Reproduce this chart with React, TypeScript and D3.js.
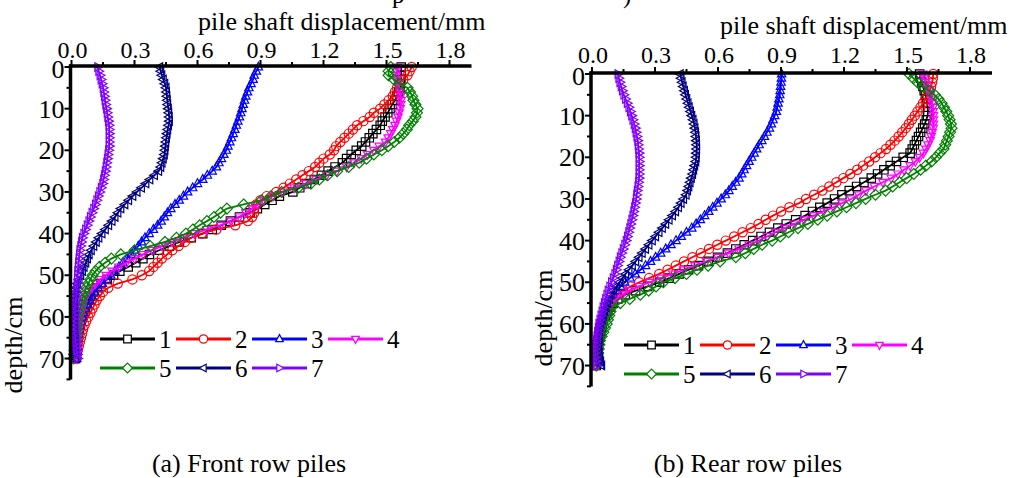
import React from 'react';
import * as d3 from 'd3';

const depths = [0,1,2,3,4,5,6,7,8,9,10,11,12,13,14,15,16,17,18,19,20,21,22,23,24,25,26,27,28,29,30,31,32,33,34,35,36,37,38,39,40,41,42,43,44,45,46,47,48,49,50,51,52,53,54,55,56,57,58,59,60,61,62,63,64,65,66,67,68,69,70];

const seriesNames = ['1','2','3','4','5','6','7'];
const seriesColors = ['#000000','#ff0000','#0000ff','#ff00ff','#008000','#000080','#8000ff'];
const seriesMarkers = ['square','circle','up','down','diamond','left','right'];

const xTicks = [0.0,0.3,0.6,0.9,1.2,1.5,1.8];
const xMinorTicks = [0.15,0.45,0.75,1.05,1.35,1.65];
const yTicks = [0,10,20,30,40,50,60,70];
const yMinorTicks = [5,15,25,35,45,55,65,75];

// (a) Front row piles
const front1 = [1.57,1.57,1.57,1.568,1.566,1.565,1.558,1.55,1.54,1.527,1.517,1.506,1.493,1.48,1.47,1.452,1.435,1.418,1.40,1.382,1.356,1.332,1.31,1.29,1.255,1.222,1.19,1.156,1.12,1.087,1.054,0.99,0.955,0.92,0.885,0.85,0.80,0.757,0.713,0.67,0.625,0.57,0.514,0.466,0.418,0.371,0.34,0.306,0.27,0.23,0.2,0.17,0.14,0.122,0.105,0.09,0.082,0.074,0.066,0.058,0.05,0.046,0.042,0.038,0.034,0.03,0.028,0.026,0.024,0.022,0.02];
const front2 = [1.62,1.61,1.60,1.58,1.56,1.55,1.54,1.53,1.51,1.49,1.47,1.44,1.42,1.39,1.36,1.34,1.32,1.30,1.28,1.26,1.25,1.23,1.20,1.18,1.16,1.13,1.10,1.07,1.04,1.01,0.975,0.93,0.90,0.88,0.87,0.87,0.86,0.84,0.78,0.69,0.62,0.57,0.54,0.51,0.48,0.455,0.43,0.41,0.39,0.37,0.335,0.29,0.22,0.175,0.15,0.135,0.12,0.11,0.10,0.09,0.08,0.07,0.062,0.055,0.05,0.045,0.04,0.035,0.03,0.025,0.02];
const front3 = [0.89,0.88,0.87,0.865,0.855,0.845,0.838,0.83,0.824,0.818,0.812,0.806,0.80,0.792,0.785,0.778,0.77,0.762,0.754,0.745,0.737,0.725,0.714,0.702,0.69,0.67,0.647,0.625,0.60,0.577,0.553,0.533,0.513,0.493,0.473,0.457,0.442,0.427,0.41,0.39,0.37,0.35,0.334,0.318,0.30,0.284,0.265,0.245,0.226,0.207,0.187,0.167,0.147,0.127,0.11,0.098,0.087,0.076,0.066,0.058,0.052,0.046,0.04,0.036,0.033,0.03,0.029,0.028,0.027,0.026,0.025];
const front4 = [1.55,1.548,1.546,1.55,1.555,1.56,1.565,1.568,1.57,1.568,1.565,1.56,1.555,1.548,1.54,1.53,1.52,1.508,1.495,1.465,1.44,1.41,1.38,1.345,1.31,1.263,1.215,1.165,1.115,1.06,1.005,0.96,0.915,0.885,0.86,0.83,0.80,0.76,0.71,0.645,0.585,0.53,0.48,0.432,0.385,0.342,0.30,0.262,0.225,0.193,0.165,0.138,0.115,0.097,0.08,0.07,0.06,0.055,0.05,0.045,0.04,0.038,0.036,0.034,0.032,0.03,0.029,0.028,0.027,0.026,0.025];
const front5 = [1.52,1.51,1.51,1.535,1.56,1.60,1.612,1.622,1.628,1.638,1.648,1.645,1.638,1.625,1.608,1.597,1.58,1.562,1.537,1.508,1.478,1.44,1.405,1.37,1.32,1.265,1.22,1.18,1.14,1.08,1.0,0.95,0.905,0.82,0.74,0.71,0.678,0.645,0.61,0.578,0.545,0.50,0.445,0.375,0.30,0.235,0.19,0.16,0.133,0.115,0.1,0.09,0.08,0.07,0.063,0.056,0.05,0.045,0.04,0.035,0.03,0.028,0.026,0.024,0.022,0.02,0.018,0.016,0.014,0.012,0.01];
const front6 = [0.42,0.425,0.43,0.437,0.444,0.45,0.452,0.454,0.456,0.458,0.461,0.463,0.465,0.466,0.462,0.458,0.455,0.452,0.449,0.447,0.445,0.442,0.437,0.431,0.425,0.415,0.395,0.373,0.354,0.333,0.312,0.292,0.272,0.254,0.235,0.221,0.207,0.193,0.177,0.161,0.145,0.13,0.118,0.106,0.094,0.084,0.076,0.068,0.06,0.052,0.044,0.036,0.028,0.022,0.019,0.016,0.014,0.014,0.014,0.015,0.015,0.015,0.015,0.016,0.016,0.017,0.017,0.018,0.018,0.019,0.02];
const front7 = [0.125,0.13,0.136,0.141,0.146,0.151,0.154,0.157,0.16,0.163,0.167,0.17,0.173,0.176,0.179,0.18,0.18,0.18,0.18,0.18,0.177,0.174,0.171,0.168,0.165,0.161,0.157,0.153,0.149,0.142,0.135,0.128,0.121,0.114,0.106,0.098,0.09,0.083,0.075,0.067,0.059,0.052,0.048,0.044,0.04,0.038,0.036,0.034,0.032,0.03,0.029,0.028,0.027,0.025,0.024,0.023,0.022,0.02,0.019,0.018,0.017,0.015,0.014,0.015,0.016,0.018,0.02,0.022,0.025,0.028,0.03];

// (b) Rear row piles
const rear1 = [1.56,1.565,1.57,1.576,1.582,1.588,1.593,1.596,1.598,1.6,1.598,1.592,1.584,1.575,1.565,1.555,1.545,1.535,1.525,1.515,1.482,1.45,1.42,1.39,1.36,1.33,1.295,1.26,1.225,1.19,1.155,1.12,1.085,1.05,1.015,0.97,0.925,0.885,0.845,0.805,0.765,0.725,0.685,0.645,0.598,0.553,0.507,0.46,0.415,0.368,0.322,0.265,0.208,0.158,0.123,0.102,0.085,0.075,0.064,0.055,0.05,0.046,0.042,0.038,0.034,0.03,0.028,0.026,0.024,0.022,0.02];
const rear2 = [1.625,1.623,1.62,1.615,1.607,1.598,1.588,1.576,1.564,1.55,1.537,1.523,1.509,1.494,1.477,1.46,1.441,1.421,1.4,1.374,1.348,1.32,1.291,1.263,1.23,1.197,1.164,1.13,1.097,1.058,1.019,0.986,0.94,0.9,0.862,0.827,0.793,0.756,0.717,0.677,0.637,0.597,0.557,0.518,0.478,0.438,0.399,0.36,0.32,0.272,0.225,0.185,0.146,0.122,0.098,0.088,0.077,0.066,0.058,0.05,0.043,0.037,0.034,0.031,0.029,0.027,0.025,0.023,0.021,0.02,0.02];
const rear3 = [0.903,0.902,0.9,0.898,0.896,0.894,0.89,0.886,0.882,0.878,0.87,0.862,0.854,0.845,0.833,0.821,0.809,0.796,0.784,0.772,0.76,0.748,0.736,0.724,0.713,0.7,0.684,0.668,0.652,0.635,0.615,0.595,0.575,0.556,0.536,0.516,0.496,0.475,0.45,0.425,0.4,0.376,0.351,0.327,0.303,0.279,0.255,0.231,0.206,0.181,0.156,0.136,0.119,0.102,0.089,0.081,0.073,0.066,0.059,0.053,0.048,0.043,0.039,0.037,0.035,0.033,0.031,0.03,0.032,0.035,0.038];
const rear4 = [1.575,1.58,1.588,1.596,1.605,1.612,1.617,1.621,1.624,1.625,1.626,1.626,1.626,1.625,1.62,1.615,1.61,1.6,1.59,1.578,1.56,1.54,1.515,1.486,1.457,1.425,1.385,1.345,1.305,1.27,1.235,1.19,1.15,1.103,1.056,1.01,0.965,0.918,0.875,0.835,0.795,0.748,0.7,0.65,0.6,0.545,0.49,0.437,0.385,0.33,0.275,0.225,0.175,0.145,0.115,0.095,0.078,0.069,0.06,0.052,0.045,0.042,0.039,0.036,0.033,0.03,0.028,0.026,0.024,0.022,0.02];
const rear5 = [1.51,1.53,1.55,1.575,1.605,1.632,1.65,1.665,1.676,1.687,1.696,1.703,1.709,1.712,1.705,1.698,1.69,1.682,1.674,1.655,1.638,1.617,1.59,1.565,1.532,1.498,1.465,1.432,1.398,1.35,1.303,1.257,1.212,1.166,1.12,1.075,1.028,0.981,0.936,0.897,0.858,0.81,0.77,0.73,0.685,0.61,0.553,0.5,0.45,0.395,0.34,0.305,0.27,0.23,0.18,0.135,0.094,0.088,0.082,0.076,0.07,0.062,0.054,0.046,0.038,0.035,0.032,0.029,0.026,0.023,0.02];
const rear6 = [0.42,0.424,0.429,0.434,0.44,0.445,0.451,0.457,0.463,0.469,0.475,0.481,0.486,0.49,0.493,0.495,0.497,0.498,0.498,0.497,0.496,0.494,0.489,0.484,0.479,0.473,0.467,0.461,0.455,0.448,0.436,0.424,0.412,0.398,0.383,0.367,0.351,0.335,0.319,0.303,0.287,0.271,0.255,0.239,0.224,0.208,0.192,0.176,0.16,0.145,0.131,0.117,0.103,0.091,0.083,0.075,0.067,0.06,0.054,0.048,0.042,0.037,0.036,0.034,0.033,0.031,0.03,0.033,0.037,0.041,0.046];
const rear7 = [0.124,0.128,0.133,0.139,0.145,0.152,0.16,0.168,0.176,0.183,0.189,0.195,0.201,0.206,0.21,0.214,0.218,0.22,0.222,0.224,0.225,0.225,0.225,0.225,0.225,0.224,0.222,0.219,0.216,0.213,0.211,0.207,0.203,0.199,0.195,0.19,0.185,0.18,0.175,0.169,0.163,0.156,0.149,0.142,0.135,0.129,0.122,0.116,0.109,0.101,0.093,0.085,0.077,0.071,0.065,0.059,0.053,0.048,0.043,0.038,0.033,0.03,0.027,0.024,0.021,0.018,0.015,0.016,0.018,0.02,0.022];

const frontSeries = [front1, front2, front3, front4, front5, front6, front7];
const rearSeries = [rear1, rear2, rear3, rear4, rear5, rear6, rear7];

const FONT = '"Liberation Serif", "Times New Roman", serif';

function markerPath(type: string, s: number): string {
  switch (type) {
    case 'square': return `M${-s},${-s}H${s}V${s}H${-s}Z`;
    case 'up': return `M0,${-s * 1.15}L${s},${s * 0.7}L${-s},${s * 0.7}Z`;
    case 'down': return `M0,${s * 1.15}L${s},${-s * 0.7}L${-s},${-s * 0.7}Z`;
    case 'left': return `M${-s * 1.15},0L${s * 0.7},${-s}L${s * 0.7},${s}Z`;
    case 'right': return `M${s * 1.15},0L${-s * 0.7},${-s}L${-s * 0.7},${s}Z`;
    case 'diamond': return `M0,${-s * 1.3}L${s * 1.3},0L0,${s * 1.3}L${-s * 1.3},0Z`;
    default: return '';
  }
}

function Marker({ type, x, y, color, fill, s }: any) {
  if (type === 'circle') {
    return <circle cx={x} cy={y} r={s * 1.1} fill={fill} stroke={color} strokeWidth={1.2} />;
  }
  return <path d={markerPath(type, s)} transform={`translate(${x},${y})`} fill={fill} stroke={color} strokeWidth={1.2} />;
}

function Panel({ data, x0, y0, titleX, titleY, tickLabelY, yLabelX, yLabelY, legendX, legendY }: any) {
  const x = d3.scaleLinear().domain([0, 1.9]).range([x0, x0 + 1.9 * 210]);
  const y = d3.scaleLinear().domain([0, 75]).range([y0, y0 + 75 * 4.165]);
  const line = d3.line<number>().x((v) => x(v)).y((_, i) => y(depths[i]));
  const ax = x(0) - 1;
  const ay = y(0) - 1;
  return (
    <g>
      {data.map((vals: number[], si: number) => (
        <g key={'s' + si}>
          <path d={line(vals) || ''} fill="none" stroke={seriesColors[si]} strokeWidth={1.8} />
          {vals.map((v, i) => (
            <Marker key={i} type={seriesMarkers[si]} x={x(v)} y={y(depths[i])} color={seriesColors[si]} fill="none" s={4.2} />
          ))}
        </g>
      ))}
      <line x1={ax - 1.5} x2={x(1.9) + 1} y1={ay} y2={ay} stroke="#000" strokeWidth={3.5} />
      <line x1={ax} x2={ax} y1={ay - 1.5} y2={y(75)} stroke="#000" strokeWidth={3.5} />
      {xTicks.map((t) => (
        <g key={'xt' + t}>
          <line x1={x(t)} x2={x(t)} y1={ay} y2={ay - 6} stroke="#000" strokeWidth={2} />
          <text x={x(t) + 1} y={tickLabelY} textAnchor="middle" fontFamily={FONT} fontSize={24}>{t.toFixed(1)}</text>
        </g>
      ))}
      {xMinorTicks.map((t) => (
        <line key={'xm' + t} x1={x(t)} x2={x(t)} y1={ay} y2={ay - 4} stroke="#000" strokeWidth={2} />
      ))}
      {yTicks.map((t) => (
        <g key={'yt' + t}>
          <line x1={ax} x2={ax - 6} y1={y(t)} y2={y(t)} stroke="#000" strokeWidth={2} />
          <text x={ax - 6} y={y(t) + (t === 0 ? 2 : 0)} dy="0.35em" textAnchor="end" fontFamily={FONT} fontSize={26}>{t}</text>
        </g>
      ))}
      {yMinorTicks.map((t) => (
        <line key={'ym' + t} x1={ax} x2={ax - 4} y1={y(t)} y2={y(t)} stroke="#000" strokeWidth={2} />
      ))}
      <text x={titleX} y={titleY} fontFamily={FONT} fontSize={26}>pile shaft displacement/mm</text>
      <text transform={`translate(${yLabelX},${yLabelY}) rotate(-90)`} textAnchor="middle" fontFamily={FONT} fontSize={26}>depth/cm</text>
      {seriesNames.map((n, i) => {
        const col = i < 4 ? i : i - 4;
        const row = i < 4 ? 0 : 1;
        const lx = legendX + col * 76;
        const ly = legendY + row * 29;
        return (
          <g key={'lg' + i}>
            <line x1={lx} x2={lx + 55} y1={ly} y2={ly} stroke={seriesColors[i]} strokeWidth={3.2} />
            <Marker type={seriesMarkers[i]} x={lx + 27.5} y={ly} color={seriesColors[i]} fill="#fff" s={3.8} />
            <text x={lx + 59} y={ly} dy="0.35em" fontFamily={FONT} fontSize={25}>{n}</text>
          </g>
        );
      })}
    </g>
  );
}

export default function App() {
  return (
    <svg width={1009} height={478} style={{ position: 'absolute', left: 0, top: 0, background: '#fff' }}>
      <rect x={0} y={0} width={1009} height={478} fill="#fff" />
      <text x={392} y={3} fontFamily={FONT} fontSize={25}>p</text>
      <text x={623} y={3} fontFamily={FONT} fontSize={25}>)</text>
      <Panel data={frontSeries} x0={71.5} y0={67} titleX={198} titleY={30} tickLabelY={58} yLabelX={22} yLabelY={345} legendX={100} legendY={339} />
      <Panel data={rearSeries} x0={592} y0={74} titleX={720} titleY={34} tickLabelY={63} yLabelX={552} yLabelY={318} legendX={624} legendY={345} />
      <text x={249} y={472} textAnchor="middle" fontFamily={FONT} fontSize={26}>(a) Front row piles</text>
      <text x={748} y={472} textAnchor="middle" fontFamily={FONT} fontSize={26}>(b) Rear row piles</text>
    </svg>
  );
}
